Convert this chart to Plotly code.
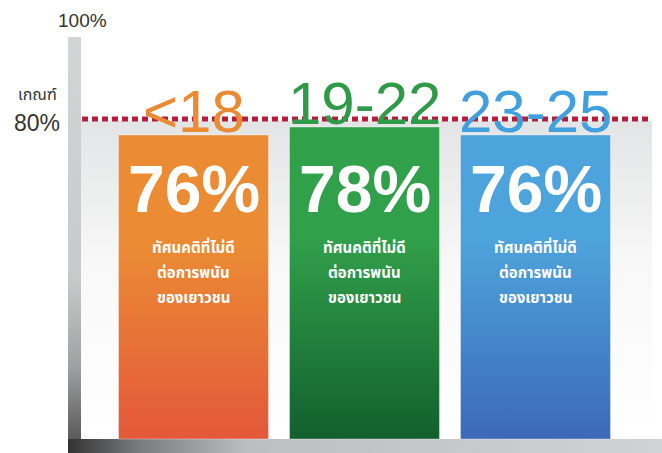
import plotly.graph_objects as go

# ---- data ----
categories = ["<18", "19-22", "23-25"]
values = [76, 78, 76]
threshold = 80
axis_max = 100
note_lines = ["ทัศนคติที่ไม่ดี", "ต่อการพนัน", "ของเยาวชน"]
threshold_word = "เกณฑ์"

# ---- styles ----
label_colors = ["#EA8A33", "#2F9A48", "#3FA0DD"]
grad_top = ["#EB8C34", "#31A04B", "#4DA3DB"]
grad_bottom = ["#E3583A", "#12602D", "#3C69B8"]
bar_width = 0.877
W, H = 662, 453

THAI = "Noto Sans Thai, Loma, Garuda, Tahoma, Noto Sans, sans-serif"
NUM = "Liberation Sans, Arial, sans-serif"

fig = go.Figure()

# ---- decorations on pixel-space base axes (x, y) ----
fig.add_trace(go.Scatter(
    x=[81, 652, 652, 81, 81], y=[121, 121, 439, 439, 121],
    mode="lines", line=dict(width=0), fill="toself",
    fillgradient=dict(type="vertical", start=121, stop=439,
                      colorscale=[[0, "#E3E4E5"], [0.45, "#F8F8F8"], [1, "#FFFFFF"]]),
    hoverinfo="skip", showlegend=False, xaxis="x", yaxis="y"))
fig.add_trace(go.Scatter(
    x=[68, 81, 81, 68, 68], y=[37, 37, 439, 439, 37],
    mode="lines", line=dict(width=0), fill="toself",
    fillgradient=dict(type="vertical", start=37, stop=439,
                      colorscale=[[0, "#D3D4D6"], [0.6, "#C8C9CB"], [0.82, "#A0A1A3"], [1, "#5A5A5A"]]),
    hoverinfo="skip", showlegend=False, xaxis="x", yaxis="y"))
fig.add_trace(go.Scatter(
    x=[68, 662, 662, 68, 68], y=[439, 439, 453, 453, 439],
    mode="lines", line=dict(width=0), fill="toself",
    fillgradient=dict(type="horizontal", start=68, stop=662,
                      colorscale=[[0, "#333333"], [0.12, "#7A7B7D"], [0.3, "#BDBEC0"], [1, "#D1D2D4"]]),
    hoverinfo="skip", showlegend=False, xaxis="x", yaxis="y"))

# ---- data bars on overlay axes (x2, y2) ----
xs = list(range(len(categories)))
fig.add_trace(go.Bar(
    x=xs, y=values, width=bar_width,
    marker=dict(color=grad_top, line=dict(width=0)),
    hoverinfo="skip", showlegend=False, xaxis="x2", yaxis="y2"))
for i, v in enumerate(values):
    x0, x1 = i - bar_width / 2, i + bar_width / 2
    fig.add_trace(go.Scatter(
        x=[x0, x1, x1, x0, x0], y=[0, 0, v, v, 0],
        mode="lines", line=dict(width=1, color="rgba(255,255,255,0.35)"), fill="toself",
        fillgradient=dict(type="vertical", start=v, stop=0,
                          colorscale=[[0, grad_top[i]], [0.35, grad_top[i]], [1, grad_bottom[i]]]),
        hoverinfo="skip", showlegend=False, xaxis="x2", yaxis="y2"))

# threshold dashed line
fig.add_shape(type="line", xref="x", yref="y2", x0=82, x1=651, y0=threshold, y1=threshold,
              line=dict(color="#B71D3A", width=5, dash="6px,4px"), layer="above")

annotations = []
annotations.append(dict(xref="x", yref="y", x=82, y=20, text=f"{axis_max}%", showarrow=False,
                        font=dict(family="Liberation Sans, Arial, sans-serif", size=19, color="#333333")))
annotations.append(dict(xref="x", yref="y", x=37, y=95, text=threshold_word, showarrow=False,
                        font=dict(family=THAI, size=16, color="#333333")))
annotations.append(dict(xref="x", yref="y", x=37, y=123, text=f"{threshold}%", showarrow=False,
                        font=dict(family="Liberation Sans, Arial, sans-serif", size=23, color="#333333")))

for i, (c, v) in enumerate(zip(categories, values)):
    annotations.append(dict(xref="x2", yref="y2", x=i, y=v, yanchor="middle", yshift=24,
                            text=c.replace("<", "&lt;"), showarrow=False,
                            font=dict(family=NUM, size=60, color=label_colors[i])))
    annotations.append(dict(xref="x2", yref="y", x=i, y=189, yanchor="middle",
                            text=f"<b>{v}%</b>", showarrow=False,
                            font=dict(family=NUM, size=66, color="white")))
    for j, line in enumerate(note_lines):
        annotations.append(dict(xref="x2", yref="y", x=i, y=248 + 25 * j, yanchor="middle",
                                text=f"<b>{line}</b>", showarrow=False,
                                font=dict(family=THAI, size=15, color="white")))

fig.update_layout(
    width=W, height=H, margin=dict(l=0, r=0, t=0, b=0),
    paper_bgcolor="white", plot_bgcolor="white",
    xaxis=dict(range=[0, W], visible=False, fixedrange=True),
    yaxis=dict(range=[H, 0], visible=False, fixedrange=True),
    xaxis2=dict(range=[-1.1316, 2.7398], overlaying="x", anchor="y2", visible=False, fixedrange=True),
    yaxis2=dict(range=[-3.5, 109.75], overlaying="y", anchor="x2", visible=False, fixedrange=True),
    annotations=annotations, showlegend=False, bargap=0, hovermode=False,
)

fig.write_html("out.html", config={"displayModeBar": False, "staticPlot": True},
               post_script="document.body.style.margin='0';document.body.style.overflow='hidden';")
